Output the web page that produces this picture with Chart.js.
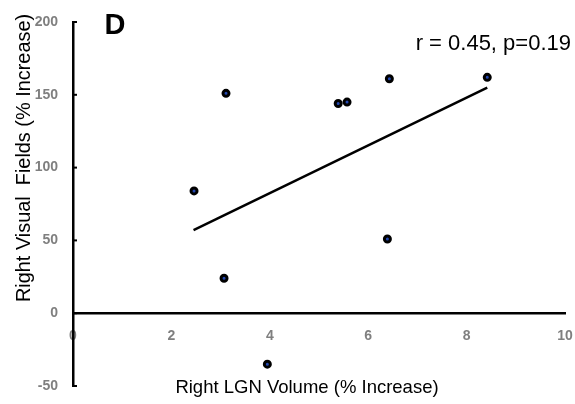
<!DOCTYPE html>
<html>
<head>
<meta charset="utf-8">
<script src="https://cdn.jsdelivr.net/npm/chart.js@4"></script>
<style>
html,body{margin:0;padding:0;background:#fff;}
#wrap{width:575px;height:404px;position:relative;}
</style>
</head>
<body>
<div id="wrap"><canvas id="c" width="575" height="404"></canvas></div>
<script>
// Data
const lgnVolume = [2.46, 3.11, 3.07, 3.95, 5.39, 5.57, 6.43, 6.39, 8.42];
const visualFields = [84, 151, 24, -35, 144, 145, 161, 51, 162];
const trendX = [2.45, 8.42];
const trendY = [57, 155];
const xTicks = [0, 2, 4, 6, 8, 10];
const yTicks = [-50, 0, 50, 100, 150, 200];
const panelLabel = 'D';
const statsLabel = 'r = 0.45, p=0.19';
const xTitle = 'Right LGN Volume (% Increase)';
const yTitle = 'Right Visual  Fields (% Increase)';

const FONT = "'Liberation Sans', Arial, sans-serif";

const textPlugin = {
  id: 'texts',
  afterDraw(chart) {
    const ctx = chart.ctx;
    const ys = chart.scales.y;
    ctx.save();
    // inward tick marks on y axis
    ctx.strokeStyle = '#000';
    ctx.lineWidth = 2;
    yTicks.forEach(v => {
      const py = ys.getPixelForValue(v);
      ctx.beginPath();
      ctx.moveTo(chart.chartArea.left, py);
      ctx.lineTo(chart.chartArea.left + 4, py);
      ctx.stroke();
    });
    ctx.fillStyle = '#000';
    ctx.textBaseline = 'middle';
    ctx.textAlign = 'center';
    ctx.font = '18.5px ' + FONT;
    ctx.fillText(xTitle, 307, 388);
    ctx.font = 'bold 29px ' + FONT;
    ctx.fillText(panelLabel, 115, 26);
    ctx.font = '22px ' + FONT;
    ctx.textAlign = 'right';
    ctx.fillText(statsLabel, 571, 44);
    // y axis title
    ctx.save();
    ctx.translate(25, 158);
    ctx.rotate(-Math.PI / 2);
    ctx.textAlign = 'center';
    ctx.font = '19.9px ' + FONT;
    ctx.fillText(yTitle, 0, 0);
    ctx.restore();
    ctx.restore();
  }
};

new Chart(document.getElementById('c'), {
  data: {
    datasets: [
      {
        type: 'scatter',
        data: lgnVolume.map((x, i) => ({x: x, y: visualFields[i]})),
        pointRadius: 3,
        pointBorderWidth: 3,
        pointBorderColor: '#000',
        pointBackgroundColor: '#2448b0',
        order: 1
      },
      {
        type: 'line',
        data: trendX.map((x, i) => ({x: x, y: trendY[i]})),
        borderColor: '#000',
        borderWidth: 2.5,
        pointRadius: 0,
        fill: false,
        order: 2
      }
    ]
  },
  options: {
    responsive: false,
    animation: false,
    events: [],
    layout: {autoPadding: false, padding: {top: 22, right: 10, bottom: 18, left: 0}},
    plugins: {legend: {display: false}, tooltip: {enabled: false}},
    scales: {
      x: {
        type: 'linear',
        position: {y: 0},
        min: 0, max: 10,
        afterBuildTicks: s => { s.ticks = xTicks.map(v => ({value: v})); },
        afterFit: s => { s.paddingLeft = 0; s.paddingRight = 0; s.paddingTop = 0; s.paddingBottom = 0; },
        grid: {display: false, drawTicks: false},
        border: {display: true, color: '#000', width: 2.5},
        ticks: {color: '#7f7f7f', font: {family: FONT, size: 14, weight: 'bold'}, padding: 15}
      },
      y: {
        type: 'linear',
        position: 'left',
        min: -50, max: 200,
        afterBuildTicks: s => { s.ticks = yTicks.map(v => ({value: v})); },
        afterFit: s => { s.width = 73; s.paddingTop = 0; s.paddingBottom = 0; },
        grid: {display: false, drawTicks: false},
        border: {display: true, color: '#000', width: 2.5},
        ticks: {color: '#7f7f7f', font: {family: FONT, size: 14, weight: 'bold'}, padding: 15}
      }
    }
  },
  plugins: [textPlugin]
});
</script>
</body>
</html>
